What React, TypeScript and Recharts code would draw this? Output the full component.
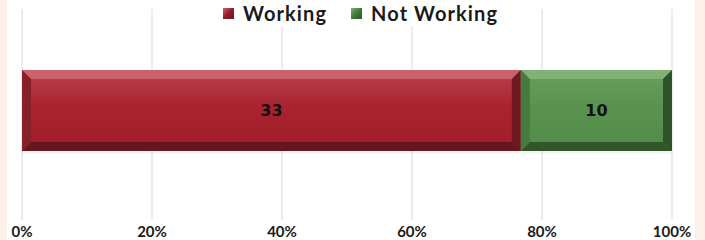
import { Bar, BarChart, CartesianGrid, LabelList, XAxis, YAxis } from 'recharts'

const categories = ['Status']
const working = [33]
const notWorking = [10]
const xTicks = [0, 0.2, 0.4, 0.6, 0.8, 1]

const data = categories.map((name, i) => ({
  name,
  working: working[i],
  notWorking: notWorking[i],
}))

const palette: Record<string, { top: string; hi: string; mid: string; low: string; bottom: string; left: string; right: string; legend: string }> = {
  working: {
    top: '#c9626c',
    hi: '#ba4250',
    mid: '#a9232f',
    low: '#9f1d2a',
    bottom: '#66161e',
    left: '#86202a',
    right: '#6f1820',
    legend: '#8f1e28',
  },
  notWorking: {
    top: '#80b275',
    hi: '#66a05b',
    mid: '#5a9350',
    low: '#528a48',
    bottom: '#30562a',
    left: '#477a3e',
    right: '#2d5227',
    legend: '#3f7a36',
  },
}

function BevelBar(props: any) {
  const { x, y, width, height, dataKey } = props
  if (!width || !height) return null
  const c = palette[dataKey]
  const b = 9
  const gid = `face-${dataKey}`
  return (
    <g>
      <defs>
        <linearGradient id={gid} x1="0" y1="0" x2="0" y2="1">
          <stop offset="0" stopColor={c.hi} />
          <stop offset="0.45" stopColor={c.mid} />
          <stop offset="1" stopColor={c.low} />
        </linearGradient>
      </defs>
      <rect x={x} y={y + height} width={width} height={3} fill="#000" opacity={0.04} />
      <rect x={x} y={y} width={width} height={height} fill={`url(#${gid})`} />
      <path d={`M${x},${y}L${x + width},${y}L${x + width - b},${y + b}L${x + b},${y + b}Z`} fill={c.top} />
      <path
        d={`M${x},${y + height}L${x + width},${y + height}L${x + width - b},${y + height - b}L${x + b},${y + height - b}Z`}
        fill={c.bottom}
      />
      <path d={`M${x},${y}L${x + b},${y + b}L${x + b},${y + height - b}L${x},${y + height}Z`} fill={c.left} />
      <path
        d={`M${x + width},${y}L${x + width - b},${y + b}L${x + width - b},${y + height - b}L${x + width},${y + height}Z`}
        fill={c.right}
      />
    </g>
  )
}

function LegendBox() {
  const items = [
    { key: 'working', label: 'Working' },
    { key: 'notWorking', label: 'Not Working' },
  ]
  return (
    <div
      style={{
        position: 'absolute',
        left: 223,
        top: 0,
        display: 'flex',
        gap: 24,
        fontFamily: 'Lato, sans-serif',
        fontWeight: 700,
        fontSize: 20,
        letterSpacing: 1.1,
        color: '#1a1a1a',
        lineHeight: '26px',
        background: '#ffffff',
      }}
    >
      {items.map((it) => (
        <div key={it.key} style={{ display: 'flex', alignItems: 'center', gap: 9 }}>
          <div
            style={{
              width: 11,
              height: 11,
              background: `linear-gradient(135deg, ${palette[it.key].top}, ${palette[it.key].legend} 50%, ${palette[it.key].bottom})`,
            }}
          />
          <span>{it.label}</span>
        </div>
      ))}
    </div>
  )
}

export default function App() {
  return (
    <div style={{ position: 'absolute', left: 0, top: 0, width: 705, height: 240, background: '#fdf0e8' }}>
      <div style={{ position: 'absolute', left: 7, top: 0, width: 688, height: 240, background: '#ffffff' }} />
      <BarChart
        width={705}
        height={240}
        data={data}
        layout="vertical"
        stackOffset="expand"
        margin={{ top: 9, right: 33, bottom: 0, left: 22 }}
        style={{ position: 'absolute', left: 0, top: 0 }}
      >
        <CartesianGrid horizontal={false} stroke="#d9d9d9" strokeWidth={1} />
        <XAxis
          type="number"
          domain={[0, 1]}
          ticks={xTicks}
          tickFormatter={(v: number) => `${Math.round(v * 100)}%`}
          axisLine={false}
          tickLine={false}
          tickMargin={0}
          height={20}
          tick={{ fontSize: 15, fontWeight: 700, fill: '#1a1a1a', fontFamily: 'Lato, sans-serif' }}
          interval={0}
        />
        <YAxis type="category" dataKey="name" hide padding={{ top: 0, bottom: 8 }} />
        <Bar dataKey="working" stackId="a" barSize={81} shape={(p: any) => <BevelBar {...p} dataKey="working" />} isAnimationActive={false}>
          <LabelList
            dataKey="working"
            position="center"
            fontFamily="DejaVu Sans, sans-serif"
            fontSize={16}
            fontWeight={700}
            fill="#111"
          />
        </Bar>
        <Bar dataKey="notWorking" stackId="a" barSize={81} shape={(p: any) => <BevelBar {...p} dataKey="notWorking" />} isAnimationActive={false}>
          <LabelList
            dataKey="notWorking"
            position="center"
            fontFamily="DejaVu Sans, sans-serif"
            fontSize={16}
            fontWeight={700}
            fill="#111"
          />
        </Bar>
      </BarChart>
      <LegendBox />
    </div>
  )
}
